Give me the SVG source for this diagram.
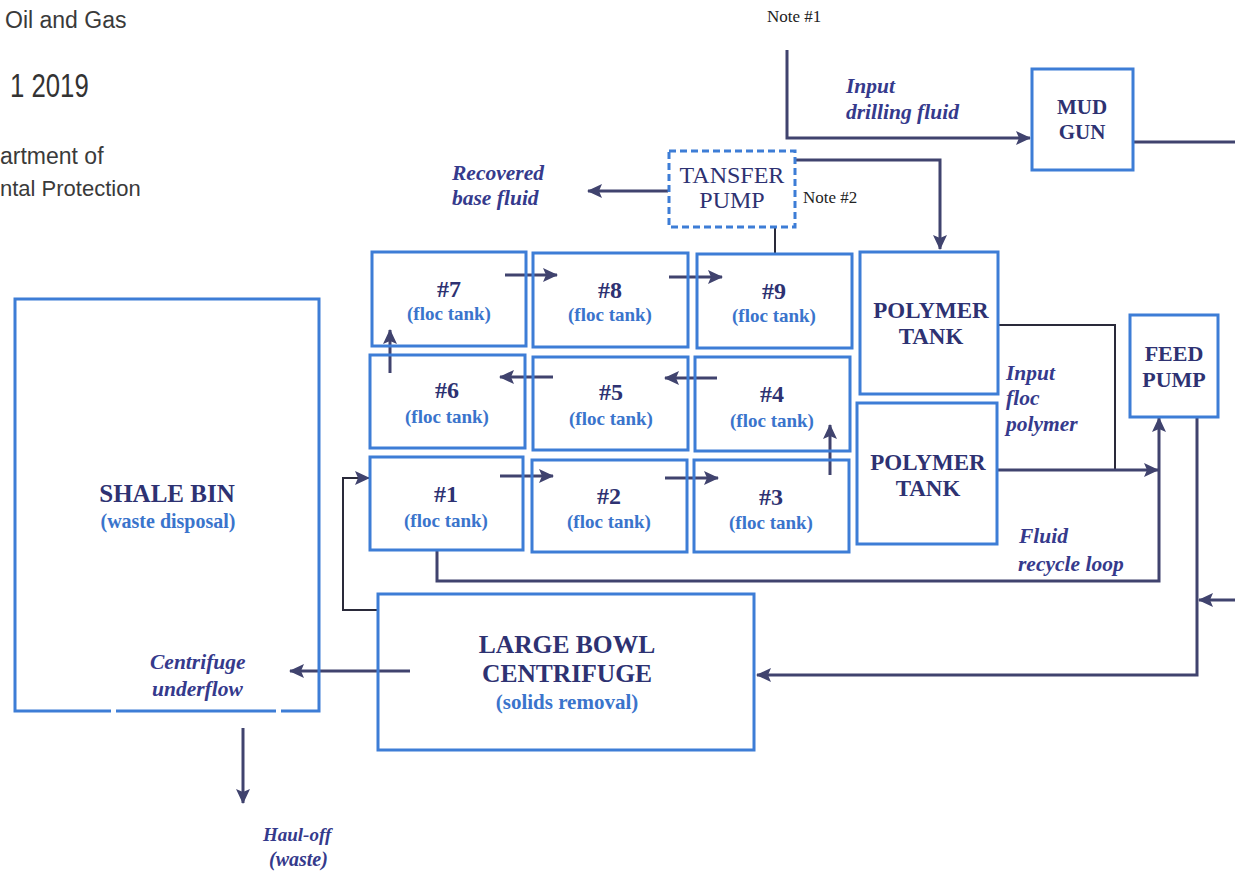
<svg xmlns="http://www.w3.org/2000/svg" width="1235" height="871" viewBox="0 0 1235 871">
<style>
.box{fill:none;stroke:#3d7dd6;stroke-width:3}
.dash{fill:none;stroke:#3d7dd6;stroke-width:3;stroke-dasharray:7 4}
.t{font-family:"Liberation Serif",serif;font-weight:bold;fill:#2e3272;text-anchor:middle}
.s{font-family:"Liberation Serif",serif;font-weight:bold;fill:#3a74cc;text-anchor:middle}
.i{font-family:"Liberation Serif",serif;font-weight:bold;font-style:italic;fill:#353a8c;font-size:21.5px}
.n{font-family:"Liberation Serif",serif;fill:#222;font-size:17px}
.g{font-family:"Liberation Sans",sans-serif;fill:#3a3a3a;font-size:23px}
.c{fill:none;stroke:#40436e;stroke-width:3}
.c2{fill:none;stroke:#2a2a3a;stroke-width:2}
</style>
<defs>
<marker id="ah" markerUnits="userSpaceOnUse" markerWidth="16" markerHeight="16" viewBox="0 0 16 16" refX="14" refY="8" orient="auto">
<path d="M0,1 L15,8 L0,15 L3,8 Z" fill="#40436e"/>
</marker>
</defs>
<rect width="1235" height="871" fill="#ffffff"/>

<g id="header">
<text class="g" x="5" y="28">Oil and Gas</text>
<text transform="translate(10,97) scale(0.78,1)" style="font-family:'Liberation Sans',sans-serif;font-size:33px;fill:#333">1 2019</text>
<text class="g" x="0" y="164">artment of</text>
<text class="g" x="0" y="196" style="font-size:22px">ntal Protection</text>
</g>

<g id="connectors">
<path class="c" d="M787 50 V138 H1030" marker-end="url(#ah)"/>
<path class="c" d="M1133 142 H1235"/>
<path class="c" d="M795 160 H940 V249" marker-end="url(#ah)"/>
<path class="c" d="M668 191 H588" marker-end="url(#ah)"/>
<path class="c2" d="M775 227 V253"/>
<path class="c" d="M505 275 H557" marker-end="url(#ah)"/>
<path class="c" d="M669 277 H722" marker-end="url(#ah)"/>
<path class="c" d="M717 378 H665" marker-end="url(#ah)"/>
<path class="c" d="M553 377 H500" marker-end="url(#ah)"/>
<path class="c" d="M390 373 V330" marker-end="url(#ah)"/>
<path class="c" d="M500 476 H553" marker-end="url(#ah)"/>
<path class="c" d="M665 478 H718" marker-end="url(#ah)"/>
<path class="c" d="M830 475 V425" marker-end="url(#ah)"/>
<path class="c2" d="M998 325 H1115 V470"/>
<path class="c" d="M997 470 H1158" marker-end="url(#ah)"/>
<path class="c" d="M437 550 V581 H1159 V418" marker-end="url(#ah)"/>
<path class="c" d="M1197 417 V675 H757" marker-end="url(#ah)"/>
<path class="c" d="M1235 600 H1199" marker-end="url(#ah)"/>
<path class="c2" d="M378 610 H343 V478 H369" marker-end="url(#ah)"/>
<path class="c" d="M410 671 H290" marker-end="url(#ah)"/>
<path class="c" d="M243 728 V803" marker-end="url(#ah)"/>
</g>

<g id="labels">
<text class="n" x="767" y="22">Note #1</text>
<text class="n" x="803" y="203">Note #2</text>
<text class="i" x="846" y="93">Input</text>
<text class="i" x="846" y="119">drilling fluid</text>
<text class="i" x="452" y="180">Recovered</text>
<text class="i" x="452" y="205">base fluid</text>
<text class="i" x="1006" y="380">Input</text>
<text class="i" x="1006" y="405">floc</text>
<text class="i" x="1006" y="431">polymer</text>
<text class="i" x="1019" y="543">Fluid</text>
<text class="i" x="1018" y="571">recycle loop</text>
<text class="i" x="150" y="669">Centrifuge</text>
<text class="i" x="152" y="696">underflow</text>
<text class="i" x="263" y="841" style="font-size:19px">Haul-off</text>
<text class="i" x="269" y="866" style="font-size:20px">(waste)</text>
</g>

<g id="mud-gun">
<rect class="box" x="1032" y="69" width="101" height="101"/>
<text class="t" x="1082" y="114" font-size="21">MUD</text>
<text class="t" x="1082" y="139" font-size="21">GUN</text>
</g>

<g id="transfer-pump">
<rect class="dash" x="669" y="151" width="126" height="76"/>
<text class="t" x="732" y="183" font-size="24" style="font-weight:normal">TANSFER</text>
<text class="t" x="732" y="208" font-size="24" style="font-weight:normal">PUMP</text>
</g>

<g id="tank7"><rect class="box" x="372" y="252" width="154" height="94"/><text class="t" x="449" y="297" font-size="24">#7</text><text class="s" x="449" y="320" font-size="19">(floc tank)</text></g>
<g id="tank8"><rect class="box" x="533" y="253" width="155" height="94"/><text class="t" x="610" y="298" font-size="24">#8</text><text class="s" x="610" y="321" font-size="19">(floc tank)</text></g>
<g id="tank9"><rect class="box" x="697" y="254" width="155" height="94"/><text class="t" x="774" y="299" font-size="24">#9</text><text class="s" x="774" y="322" font-size="19">(floc tank)</text></g>
<g id="tank6"><rect class="box" x="370" y="355" width="155" height="93"/><text class="t" x="447" y="398" font-size="24">#6</text><text class="s" x="447" y="423" font-size="19">(floc tank)</text></g>
<g id="tank5"><rect class="box" x="533" y="357" width="155" height="93"/><text class="t" x="611" y="400" font-size="24">#5</text><text class="s" x="611" y="425" font-size="19">(floc tank)</text></g>
<g id="tank4"><rect class="box" x="695" y="357" width="155" height="94"/><text class="t" x="772" y="402" font-size="24">#4</text><text class="s" x="772" y="427" font-size="19">(floc tank)</text></g>
<g id="tank1"><rect class="box" x="370" y="457" width="153" height="93"/><text class="t" x="446" y="502" font-size="24">#1</text><text class="s" x="446" y="527" font-size="19">(floc tank)</text></g>
<g id="tank2"><rect class="box" x="532" y="460" width="155" height="92"/><text class="t" x="609" y="504" font-size="24">#2</text><text class="s" x="609" y="528" font-size="19">(floc tank)</text></g>
<g id="tank3"><rect class="box" x="694" y="460" width="155" height="92"/><text class="t" x="771" y="505" font-size="24">#3</text><text class="s" x="771" y="529" font-size="19">(floc tank)</text></g>

<g id="polymer-tank-1">
<rect class="box" x="860" y="252" width="138" height="142"/>
<text class="t" x="931" y="318" font-size="23">POLYMER</text>
<text class="t" x="931" y="344" font-size="23">TANK</text>
</g>
<g id="polymer-tank-2">
<rect class="box" x="857" y="403" width="140" height="141"/>
<text class="t" x="928" y="470" font-size="23">POLYMER</text>
<text class="t" x="928" y="496" font-size="23">TANK</text>
</g>

<g id="feed-pump">
<rect class="box" x="1130" y="315" width="88" height="102"/>
<text class="t" x="1174" y="361" font-size="22">FEED</text>
<text class="t" x="1174" y="387" font-size="22">PUMP</text>
</g>

<g id="shale-bin">
<path class="box" d="M111 711 H15 V299 H319 V711 H281"/>
<path class="box" d="M116 711 H276"/>
<text class="t" x="167" y="502" font-size="25">SHALE BIN</text>
<text class="s" x="168" y="528" font-size="20">(waste disposal)</text>
</g>

<g id="centrifuge">
<rect class="box" x="378" y="594" width="376" height="156"/>
<text class="t" x="567" y="653" font-size="25.5">LARGE BOWL</text>
<text class="t" x="567" y="682" font-size="25.5">CENTRIFUGE</text>
<text class="s" x="567" y="709" font-size="21">(solids removal)</text>
</g>
</svg>
